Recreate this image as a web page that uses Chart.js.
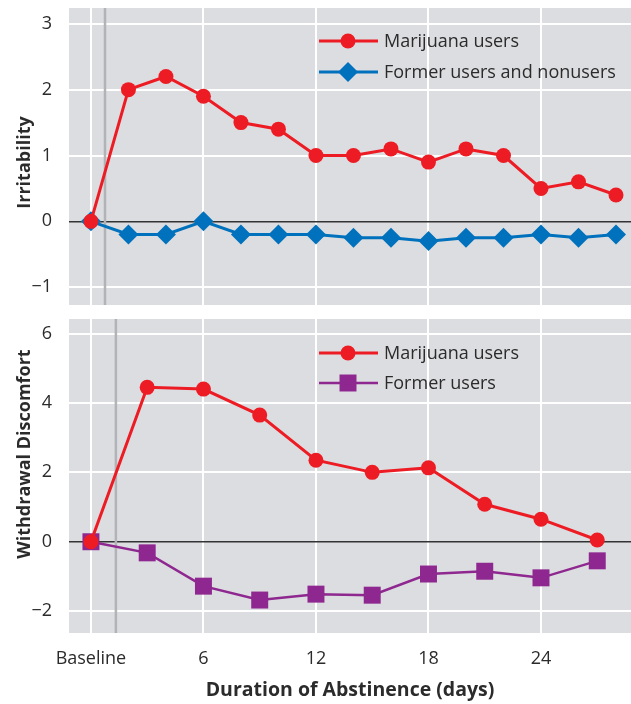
<!DOCTYPE html>
<html>
<head>
<meta charset="utf-8">
<script src="https://cdn.jsdelivr.net/npm/chart.js@4.4.1/dist/chart.umd.min.js"></script>
<style>
  html, body { margin: 0; padding: 0; background: #fff; }
  #wrap { position: relative; width: 631px; height: 704px; }
  canvas { position: absolute; left: 0; }
  #topChart { top: 0; }
  #bottomChart { top: 312px; }
</style>
</head>
<body>
<div id="wrap">
  <canvas id="topChart" width="631" height="312"></canvas>
  <canvas id="bottomChart" width="631" height="392"></canvas>
</div>
<script>
// Irritability panel (every 2 days)
const daysTop = [0, 2, 4, 6, 8, 10, 12, 14, 16, 18, 20, 22, 24, 26, 28];
const irritabilityUsers = [0, 2.0, 2.2, 1.9, 1.5, 1.4, 1.0, 1.0, 1.1, 0.9, 1.1, 1.0, 0.5, 0.6, 0.4];
const irritabilityFormer = [0, -0.2, -0.2, 0, -0.2, -0.2, -0.2, -0.25, -0.25, -0.3, -0.25, -0.25, -0.2, -0.25, -0.2];

// Withdrawal discomfort panel (every 3 days)
const daysBottom = [0, 3, 6, 9, 12, 15, 18, 21, 24, 27];
const discomfortUsers = [0, 4.45, 4.4, 3.65, 2.35, 2.0, 2.13, 1.08, 0.65, 0.05];
const discomfortFormer = [0, -0.32, -1.28, -1.68, -1.51, -1.54, -0.93, -0.85, -1.04, -0.55];

// Axis ticks
const xTicks = [0, 6, 12, 18, 24];
const yTicksTop = [-1, 0, 1, 2, 3];
const yTicksBottom = [-2, 0, 2, 4, 6];

// Where the grey marker line sits on each panel (days)
const markerDayTop = 0.75;
const markerDayBottom = 1.33;

const FONT = '"Open Sans", "Noto Sans", sans-serif';
const TEXT = '#2b2b2b';
const RED = '#ed1c24';
const BLUE = '#0071bc';
const PURPLE = '#8e278f';

const toPoints = (xs, ys) => xs.map((x, i) => ({ x: x, y: ys[i] }));
const minus = v => (v < 0 ? '\u2212' + Math.abs(v) : String(v));
const noPadding = s => { s.paddingTop = 0; s.paddingBottom = 0; s.paddingLeft = 0; s.paddingRight = 0; };

// grey plot background
const plotBackground = {
  id: 'plotBackground',
  beforeDraw(chart) {
    const a = chart.chartArea;
    const ctx = chart.ctx;
    ctx.save();
    ctx.fillStyle = '#dcdde0';
    ctx.fillRect(a.left, a.top, a.right - a.left, a.bottom - a.top);
    ctx.restore();
  }
};

// vertical grey line after baseline
const markerLine = {
  id: 'markerLine',
  beforeDatasetsDraw(chart, args, opts) {
    const a = chart.chartArea;
    const ctx = chart.ctx;
    const x = chart.scales.x.getPixelForValue(opts.day);
    ctx.save();
    ctx.strokeStyle = '#b1b3b6';
    ctx.lineWidth = 2.5;
    ctx.beginPath();
    ctx.moveTo(x, a.top);
    ctx.lineTo(x, a.bottom);
    ctx.stroke();
    ctx.restore();
  }
};

// rotated y title, nudged off the plot centre like the original
const sideTitle = {
  id: 'sideTitle',
  afterDraw(chart, args, opts) {
    const a = chart.chartArea;
    const ctx = chart.ctx;
    ctx.save();
    ctx.translate(25, (a.top + a.bottom) / 2 + opts.shift);
    ctx.rotate(-Math.PI / 2);
    ctx.fillStyle = TEXT;
    ctx.font = 'bold 18px ' + FONT;
    ctx.textAlign = 'center';
    ctx.textBaseline = 'middle';
    ctx.fillText(opts.text, 0, 0);
    ctx.restore();
  }
};

// legend inside the plot area
const innerLegend = {
  id: 'innerLegend',
  afterDatasetsDraw(chart, args, opts) {
    const a = chart.chartArea;
    const ctx = chart.ctx;
    ctx.save();
    chart.data.datasets.forEach((ds, i) => {
      const y = a.top + opts.top + i * opts.gap;
      const x0 = a.left + opts.left;
      ctx.strokeStyle = ds.borderColor;
      ctx.lineWidth = ds.borderWidth;
      ctx.beginPath();
      ctx.moveTo(x0, y);
      ctx.lineTo(x0 + 59, y);
      ctx.stroke();
      ctx.fillStyle = ds.pointBackgroundColor;
      Chart.helpers.drawPoint(ctx, {
        pointStyle: ds.pointStyle,
        radius: ds.pointRadius,
        rotation: 0,
        borderWidth: 0
      }, x0 + 29, y);
      ctx.fillStyle = TEXT;
      ctx.font = '18px ' + FONT;
      ctx.textBaseline = 'middle';
      ctx.textAlign = 'left';
      ctx.fillText(ds.label, x0 + 65, y + 1);
    });
    ctx.restore();
  }
};

function series(label, xs, ys, color, style, radius, width) {
  return {
    label: label,
    data: toPoints(xs, ys),
    borderColor: color,
    backgroundColor: color,
    pointBackgroundColor: color,
    pointBorderWidth: 0,
    pointStyle: style,
    pointRadius: radius,
    borderWidth: width,
    tension: 0
  };
}

function makeOptions(cfg) {
  return {
    responsive: false,
    animation: false,
    events: [],
    layout: { autoPadding: false, padding: { top: cfg.padTop, right: 0, bottom: 0, left: 0 } },
    plugins: {
      legend: { display: false },
      tooltip: { enabled: false },
      markerLine: { day: cfg.markerDay },
      sideTitle: { text: cfg.yTitle, shift: cfg.titleShift },
      innerLegend: { left: 250, top: cfg.legendTop, gap: cfg.legendGap }
    },
    scales: {
      x: {
        type: 'linear',
        min: -1.17,
        max: 28.8,
        afterBuildTicks: s => { s.ticks = xTicks.map(v => ({ value: v })); },
        afterFit: s => { s.height = cfg.xHeight; noPadding(s); },
        grid: { color: '#ffffff', lineWidth: 2, drawTicks: false },
        border: { display: false },
        ticks: {
          display: cfg.showX,
          padding: 15,
          color: TEXT,
          font: { family: FONT, size: 18 },
          maxRotation: 0,
          callback: v => (v === 0 ? 'Baseline' : v)
        },
        title: {
          display: cfg.showX,
          text: 'Duration of Abstinence (days)',
          color: TEXT,
          font: { family: FONT, size: 19.5, weight: 'bold', lineHeight: 1.2 },
          padding: { top: 0, bottom: 2 }
        }
      },
      y: {
        min: cfg.yMin,
        max: cfg.yMax,
        afterBuildTicks: s => { s.ticks = cfg.yTicks.map(v => ({ value: v })); },
        afterFit: s => { s.width = 69; noPadding(s); },
        grid: {
          color: c => (c.tick && c.tick.value === 0 ? '#333333' : '#ffffff'),
          lineWidth: c => (c.tick && c.tick.value === 0 ? 1.5 : 2),
          drawTicks: false
        },
        border: { display: false },
        ticks: {
          padding: 17,
          color: TEXT,
          font: { family: FONT, size: 18 },
          callback: v => minus(v)
        },
        title: { display: false }
      }
    }
  };
}

new Chart(document.getElementById('topChart'), {
  type: 'line',
  data: {
    datasets: [
      series('Marijuana users', daysTop, irritabilityUsers, RED, 'circle', 7.5, 3),
      series('Former users and nonusers', daysTop, irritabilityFormer, BLUE, 'rectRot', 10, 3)
    ]
  },
  options: makeOptions({
    padTop: 8, xHeight: 7, showX: false,
    yMin: -1.27, yMax: 3.24, yTicks: yTicksTop,
    yTitle: 'Irritability', titleShift: 6,
    markerDay: markerDayTop, legendTop: 33, legendGap: 31
  }),
  plugins: [plotBackground, markerLine, innerLegend, sideTitle]
});

new Chart(document.getElementById('bottomChart'), {
  type: 'line',
  data: {
    datasets: [
      series('Marijuana users', daysBottom, discomfortUsers, RED, 'circle', 7.5, 3),
      series('Former users', daysBottom, discomfortFormer, PURPLE, 'rect', 12, 2.5)
    ]
  },
  options: makeOptions({
    padTop: 7, xHeight: 71, showX: true,
    yMin: -2.63, yMax: 6.42, yTicks: yTicksBottom,
    yTitle: 'Withdrawal Discomfort', titleShift: -22,
    markerDay: markerDayBottom, legendTop: 34, legendGap: 30
  }),
  plugins: [plotBackground, markerLine, innerLegend, sideTitle]
});
</script>
</body>
</html>
